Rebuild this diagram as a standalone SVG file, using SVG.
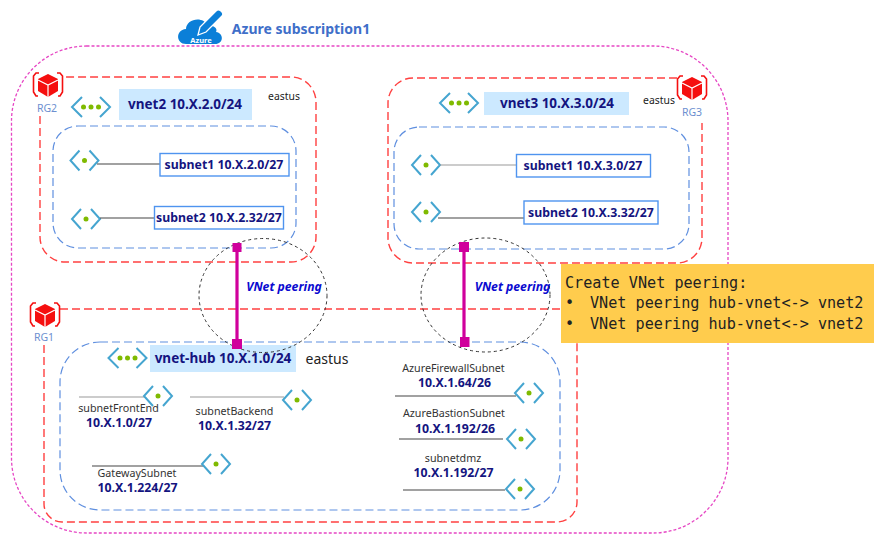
<svg xmlns="http://www.w3.org/2000/svg" xmlns:xlink="http://www.w3.org/1999/xlink" width="883" height="540" viewBox="0 0 883 540">
<style>
text{font-family:"Noto Sans","Liberation Sans",sans-serif}
.sub{fill:none;stroke:#e646c4;stroke-width:1.3;stroke-dasharray:3 2}
.rg{fill:none;stroke:#ff4040;stroke-width:1.4;stroke-dasharray:8 4}
.bl{fill:none;stroke:#5f8fdf;stroke-width:1.2;stroke-dasharray:8 4}
.circ{fill:none;stroke:#333;stroke-width:1;stroke-dasharray:3 3}
.chev{fill:none;stroke:#45a5d0;stroke-width:2}
.dot{fill:#7fba00}
.bar{fill:#cce9ff}
.vn{font-size:13.5px;font-weight:700;fill:#14147f;text-anchor:middle}
.box{fill:#fff;stroke:#4f94ef;stroke-width:1.4}
.sn{font-size:12.3px;font-weight:700;fill:#14147f;text-anchor:middle}
.ip{font-size:12.3px;font-weight:700;fill:#14147f;text-anchor:middle}
.nm{font-size:10.7px;fill:#333;text-anchor:middle}
.ea{font-size:10.4px;fill:#222;text-anchor:middle}
.rgt{font-size:10.5px;fill:#6d8fd0;text-anchor:middle}
.ln{stroke:#444;stroke-width:1.2;fill:none}
.lg{stroke:#999;stroke-width:1.2;fill:none}
.peer{stroke:#d0009c;stroke-width:3.2;fill:none}
.sq{fill:#d0009c}
.pl{font-size:12.2px;font-weight:700;font-style:italic;fill:#0a0ad0;text-anchor:middle}
.mono{font-family:"DejaVu Sans Mono","Liberation Mono",monospace;font-size:15.15px;fill:#222}
</style>
<defs>
<g id="icon-subnet"><path class="chev" d="M-5,-10 L-14,0 L-5,10 M5,-10 L14,0 L5,10"/><circle class="dot" r="2.5"/></g>
<g id="icon-vnet"><path class="chev" d="M-9,-10 L-19,0 L-9,10 M9,-10 L19,0 L9,10"/><circle class="dot" cx="-7.5" r="2.5"/><circle class="dot" r="2.5"/><circle class="dot" cx="7.5" r="2.5"/></g>
<g id="icon-rg"><path d="M0,-11 L10,-6 V6 L0,12 L-10,6 V-6 Z" fill="#f50f0f"/><path d="M-10,-5 L0,0 L10,-5 M0,0 V12" stroke="#fff" stroke-width="1.2" fill="none"/><path d="M-9,-12 H-12 L-14.500,-9 V7 L-12,11 H-10 M9,-12 H12 L14.500,-9 V7 L12,11 H10" stroke="#f50f0f" stroke-width="1.6" fill="none"/></g>
</defs>

<g id="subscription">
<rect class="sub" x="11.500" y="46" width="716.500" height="487" rx="75"/>
<path fill="#0b7fd8" d="M186,44 C176,44 175,30 186,29 C186,19 203,15 208,26 C214,25 218,29 216,32 C224,33 224,44 215,44 Z"/>
<path d="M198,35 L200,27 L216,11 C219,8 225,13 222,16 L206,32 Z" fill="#0b7fd8" stroke="#fff" stroke-width="1.300"/>
<text x="201" y="43" font-size="7.500" font-weight="700" fill="#fff" text-anchor="middle">Azure</text>
<text x="301" y="34" font-size="14px" font-weight="700" fill="#3f6fc9" text-anchor="middle">Azure subscription1</text>
</g>

<g id="rg2">
<path class="rg" d="M40,116 V237 a25,25 0 0 0 25,25 H291 a25,25 0 0 0 25,-25 V102 a25,25 0 0 0 -25,-25 H65"/>
<use xlink:href="#icon-rg" x="48" y="85"/>
<text class="rgt" x="47" y="112">RG2</text>
<text class="ea" x="284" y="100">eastus</text>
</g>
<g id="vnet2">
<rect class="bl" x="53" y="126" width="243" height="122" rx="25"/>
<use xlink:href="#icon-vnet" x="91" y="107"/>
<rect class="bar" x="119" y="89" width="133" height="31"/>
<text class="vn" x="185" y="108.500">vnet2 10.X.2.0/24</text>
</g>
<g id="vnet2-subnet1">
<use xlink:href="#icon-subnet" x="84.500" y="160.500"/>
<path class="ln" d="M97,164 H160"/>
<rect class="box" x="160" y="153.500" width="129" height="22.500"/>
<text class="sn" x="224" y="168.500">subnet1 10.X.2.0/27</text>
</g>
<g id="vnet2-subnet2">
<use xlink:href="#icon-subnet" x="86" y="219"/>
<path class="ln" d="M100,218 H155"/>
<rect class="box" x="154.500" y="206.500" width="129" height="22.500"/>
<text class="sn" x="219" y="222">subnet2 10.X.2.32/27</text>
</g>

<g id="rg3">
<path class="rg" d="M677,78 H413 a25,25 0 0 0 -25,25 V238 a25,25 0 0 0 25,25 H677 a25,25 0 0 0 25,-25 V123"/>
<use xlink:href="#icon-rg" x="692" y="88"/>
<text class="rgt" x="692" y="116">RG3</text>
<text class="ea" x="659" y="104">eastus</text>
</g>
<g id="vnet3">
<rect class="bl" x="394" y="127" width="295" height="122" rx="25"/>
<use xlink:href="#icon-vnet" x="459" y="103"/>
<rect class="bar" x="484" y="92" width="145" height="23"/>
<text class="vn" x="557" y="107.500">vnet3 10.X.3.0/24</text>
</g>
<g id="vnet3-subnet1">
<use xlink:href="#icon-subnet" x="426" y="165"/>
<path class="lg" d="M440,165 H516"/>
<rect class="box" x="516.500" y="154.500" width="134" height="22.500"/>
<text class="sn" x="583" y="170">subnet1 10.X.3.0/27</text>
</g>
<g id="vnet3-subnet2">
<use xlink:href="#icon-subnet" x="426" y="212"/>
<path class="ln" d="M438,218 H524"/>
<rect class="box" x="524" y="201" width="134" height="23"/>
<text class="sn" x="591" y="216.500">subnet2 10.X.3.32/27</text>
</g>

<g id="rg1">
<path class="rg" d="M44,345 V504 a18,18 0 0 0 18,18 H557 a20,20 0 0 0 20,-20 V343 M60,309 H561"/>
<use xlink:href="#icon-rg" x="45" y="315"/>
<text class="rgt" x="44" y="341">RG1</text>
</g>
<g id="vnet-hub">
<rect class="bl" x="60" y="342" width="500" height="168" rx="40"/>
<use xlink:href="#icon-vnet" x="127.500" y="358"/>
<rect class="bar" x="150" y="345" width="146" height="27"/>
<text class="vn" x="223" y="362.500">vnet-hub 10.X.1.0/24</text>
<text x="327" y="363.500" font-size="14px" fill="#222" text-anchor="middle">eastus</text>
</g>
<g id="subnetFrontEnd">
<path class="lg" d="M79,397 H145"/>
<use xlink:href="#icon-subnet" x="158" y="396"/>
<text class="nm" x="118.500" y="412">subnetFrontEnd</text>
<text class="ip" x="119" y="427">10.X.1.0/27</text>
</g>
<g id="subnetBackend">
<path class="lg" d="M190,397 H284"/>
<use xlink:href="#icon-subnet" x="297" y="400"/>
<text class="nm" x="234.500" y="415">subnetBackend</text>
<text class="ip" x="234.500" y="430">10.X.1.32/27</text>
</g>
<g id="GatewaySubnet">
<path class="ln" d="M92,466 H204"/>
<use xlink:href="#icon-subnet" x="216" y="464"/>
<text class="nm" x="137" y="477">GatewaySubnet</text>
<text class="ip" x="137.500" y="492">10.X.1.224/27</text>
</g>
<g id="AzureFirewallSubnet">
<text class="nm" x="453.500" y="372">AzureFirewallSubnet</text>
<text class="ip" x="454.500" y="387">10.X.1.64/26</text>
<path class="ln" d="M395,396 H516"/>
<use xlink:href="#icon-subnet" x="529" y="393"/>
</g>
<g id="AzureBastionSubnet">
<text class="nm" x="454" y="417">AzureBastionSubnet</text>
<text class="ip" x="455" y="433">10.X.1.192/26</text>
<path class="ln" d="M399,439 H503"/>
<use xlink:href="#icon-subnet" x="521" y="439"/>
</g>
<g id="subnetdmz">
<text class="nm" x="453" y="462">subnetdmz</text>
<text class="ip" x="453.500" y="477">10.X.1.192/27</text>
<path class="ln" d="M403,490 H505"/>
<use xlink:href="#icon-subnet" x="520" y="489"/>
</g>

<g id="connectors">
<ellipse class="circ" cx="263" cy="295.500" rx="64" ry="57"/>
<ellipse class="circ" cx="485.500" cy="295" rx="64.500" ry="57"/>
<path class="peer" d="M237,247 V344"/>
<rect class="sq" x="232.500" y="243" width="9" height="9"/>
<rect class="sq" x="232" y="339" width="10" height="10"/>
<path class="peer" d="M464,247 V342"/>
<rect class="sq" x="459" y="242" width="10" height="10"/>
<rect class="sq" x="460" y="337" width="9.500" height="10"/>
<text class="pl" x="284" y="291">VNet peering</text>
<text class="pl" x="512.500" y="291">VNet peering</text>
</g>

<g id="note">
<rect x="561" y="264" width="313" height="79" fill="#ffcc4d"/>
<text class="mono" x="565" y="288">Create VNet peering:</text>
<text class="mono" x="565" y="308">•</text>
<text class="mono" x="590" y="308">VNet peering hub-vnet&lt;-&gt; vnet2</text>
<text class="mono" x="565" y="329">•</text>
<text class="mono" x="590" y="329">VNet peering hub-vnet&lt;-&gt; vnet2</text>
</g>
</svg>
